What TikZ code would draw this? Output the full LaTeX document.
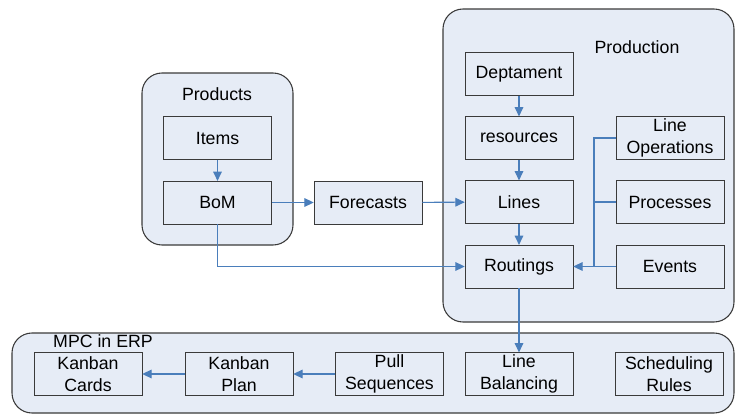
\documentclass[tikz,border=0pt]{standalone}
\usepackage{fontspec}
\setmainfont{Liberation Sans}
\usetikzlibrary{arrows.meta,positioning,calc}
\definecolor{panelfill}{HTML}{E6ECF6}
\definecolor{linkblue}{HTML}{4A7EBB}
\definecolor{edgegray}{HTML}{3A3A3A}

\begin{document}
\begin{tikzpicture}[
  x=0.75pt,y=-0.75pt,
  panel/.style={draw=edgegray,fill=panelfill,rounded corners=15pt,line width=0.8pt},
  box/.style={draw=edgegray,fill=panelfill,minimum width=81pt,minimum height=32pt,
              inner sep=0pt,align=center,font=\fontsize{13.3}{16}\selectfont},
  title/.style={font=\fontsize{13.3}{16}\selectfont},
  link/.style={color=linkblue,line width=0.8pt},
  arr/.style={link,-{Triangle[length=7pt,width=6.5pt]}},
]
  \useasboundingbox (0,0) rectangle (735,414);

  % containers
  \draw[panel] (142,73) rectangle (293,245);
  \draw[panel] (443,9) rectangle (734,322);
  \draw[panel] (12,333) rectangle (734,413);

  \node[title] (products) at (217,94) {Products};
  \node[title] (production) at (637,47) {Production};
  \node[title] (mpc) at (103,341) {MPC in ERP};

  % products
  \node[box] (items) at (217.5,138) {Items};
  \node[box] (bom) at (217.5,202.5) {BoM};
  \node[box] (forecasts) at (368,202.5) {Forecasts};

  % production
  \node[box] (dept) at (519,74) {Deptament};
  \node[box] (resources) at (519,138) {resources};
  \node[box] (lines) at (519,202) {Lines};
  \node[box] (routings) at (519,266.5) {Routings};
  \node[box] (lineops) at (670,138) {Line\\Operations};
  \node[box] (processes) at (670,202) {Processes};
  \node[box] (events) at (670,266.5) {Events};
  \coordinate (bus) at (594,266.5);

  % MPC in ERP
  \node[box] (cards) at (88,374) {Kanban\\Cards};
  \node[box] (plan) at (239,374) {Kanban\\Plan};
  \node[box] (pull) at (389.5,374) {Pull\\Sequences};
  \node[box] (balancing) at (519,374) {Line\\Balancing};
  \node[box] (rules) at (669,374) {Scheduling\\Rules};

  \draw[arr] (items) -- (bom);
  \draw[arr] (bom) -- (forecasts);
  \draw[arr] (forecasts) -- (lines);
  \draw[arr] (bom) |- (routings);

  \draw[arr] (dept) -- (resources);
  \draw[arr] (resources) -- (lines);
  \draw[arr] (lines) -- (routings);
  \draw[link] (lineops) -| (bus);
  \draw[link] (processes) -| (bus);
  \draw[arr] (events) -- (routings);

  \draw[arr] (routings) -- (balancing);
  \draw[arr] (pull) -- (plan);
  \draw[arr] (plan) -- (cards);
\end{tikzpicture}
\end{document}
